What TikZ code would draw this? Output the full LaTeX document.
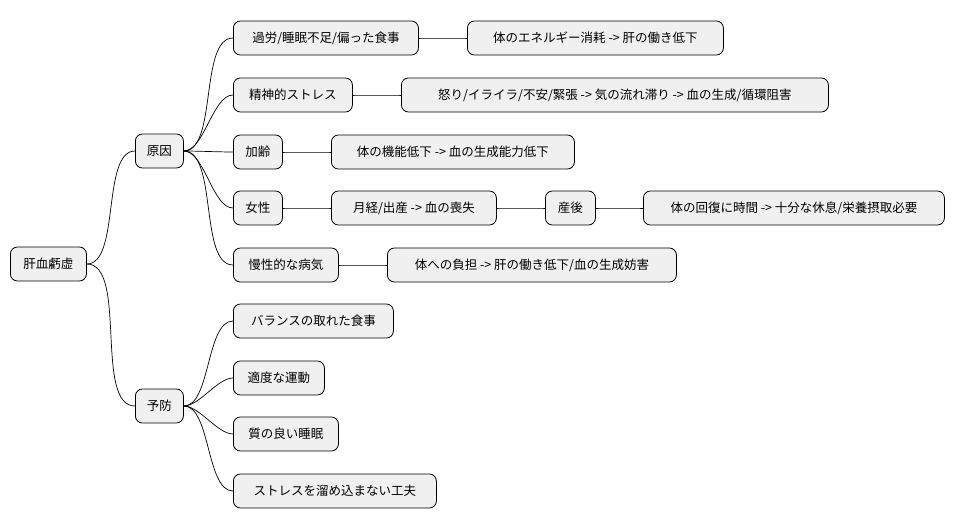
\documentclass[tikz,border=0pt]{standalone}
\usepackage{fontspec}
\setmainfont{Noto Sans CJK JP}
\begin{document}
\begin{tikzpicture}[x=1pt,y=-1pt,
  n/.style={draw=black,line width=0.8pt,fill=black!6,rounded corners=7pt,anchor=west,inner xsep=4pt,minimum height=34pt,font=\fontsize{12.5}{14}\selectfont},
  w/.style={minimum width=#1pt},
  c/.style={line width=0.7pt,out=0,in=180,looseness=0.7}]
\useasboundingbox (0,0) rectangle (955,527);
\node[n,w=76] (r) at (10,264) {肝血虧虚};
\node[n,w=48] (a) at (135,151) {原因};
\node[n,w=48] (b) at (135,406) {予防};
\node[n,w=185] (a1) at (233,38) {過労/睡眠不足/偏った食事};
\node[n,w=256] (a1x) at (467,38) {体のエネルギー消耗 -> 肝の働き低下};
\node[n,w=119] (a2) at (233,95) {精神的ストレス};
\node[n,w=427] (a2x) at (401,95) {怒り/イライラ/不安/緊張 -> 気の流れ滞り -> 血の生成/循環阻害};
\node[n,w=49] (a3) at (233,152) {加齢};
\node[n,w=243] (a3x) at (331,152) {体の機能低下 -> 血の生成能力低下};
\node[n,w=49] (a4) at (233,208) {女性};
\node[n,w=165] (a4x) at (331,208) {月経/出産 -> 血の喪失};
\node[n,w=50] (a4y) at (545,208) {産後};
\node[n,w=301] (a4z) at (643,208) {体の回復に時間 -> 十分な休息/栄養摂取必要};
\node[n,w=105] (a5) at (233,265) {慢性的な病気};
\node[n,w=289] (a5x) at (387,265) {体への負担 -> 肝の働き低下/血の生成妨害};
\node[n,w=160] (b1) at (233,321) {バランスの取れた食事};
\node[n,w=91] (b2) at (233,378) {適度な運動};
\node[n,w=105] (b3) at (233,434) {質の良い睡眠};
\node[n,w=203] (b4) at (233,491) {ストレスを溜め込まない工夫};
\foreach \p/\q in {r/a,r/b,a/a1,a/a2,a/a3,a/a4,a/a5,b/b1,b/b2,b/b3,b/b4,a1/a1x,a2/a2x,a3/a3x,a4/a4x,a4x/a4y,a4y/a4z,a5/a5x}
  \draw[c] (\p.east) to (\q.west);
\end{tikzpicture}
\end{document}
